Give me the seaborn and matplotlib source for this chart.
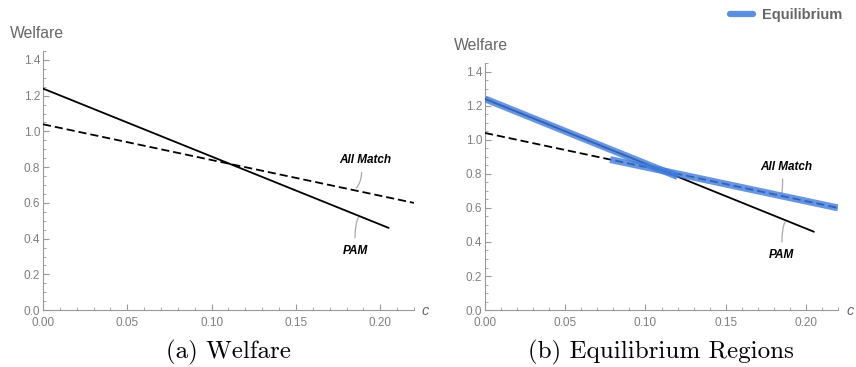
import matplotlib
matplotlib.use("Agg")
import matplotlib.pyplot as plt
from matplotlib.ticker import MultipleLocator, FormatStrFormatter
from matplotlib.lines import Line2D
import seaborn as sns
import pandas as pd

# ---- data ----
pam_c = [0.0, 0.205]
pam_w = [1.24, 0.46]
allmatch_c = [0.0, 0.22]
allmatch_w = [1.04, 0.60]
eq_pam_c = [0.0, 0.12]
eq_pam_w = [1.24, 0.784]
eq_all_c = [0.078, 0.22]
eq_all_w = [0.884, 0.60]
x_ticks = [0.00, 0.05, 0.10, 0.15, 0.20]
y_ticks = [0.0, 0.2, 0.4, 0.6, 0.8, 1.0, 1.2, 1.4]
captions = ["(a) Welfare", "(b) Equilibrium Regions"]

sns.set_theme(style="white")
plt.rcParams["font.family"] = ["Liberation Sans", "DejaVu Sans"]

GRAY = "#7f7f7f"
BLUE = "#3f7bdc"

fig = plt.figure(figsize=(8.56, 3.67), dpi=100)
ax1 = fig.add_axes([0.0502, 0.155, 0.4334, 0.706])
ax2 = fig.add_axes([0.5666, 0.155, 0.4124, 0.673])


def style(ax):
    ax.set_xlim(0, 0.22)
    ax.set_ylim(0, 1.45)
    ax.set_xticks(x_ticks)
    ax.set_yticks(y_ticks)
    ax.xaxis.set_minor_locator(MultipleLocator(0.01))
    ax.yaxis.set_minor_locator(MultipleLocator(0.05))
    ax.xaxis.set_major_formatter(FormatStrFormatter("%.2f"))
    ax.yaxis.set_major_formatter(FormatStrFormatter("%.1f"))
    for s in ["top", "right"]:
        ax.spines[s].set_visible(False)
    for s in ["left", "bottom"]:
        ax.spines[s].set_color("#999999")
        ax.spines[s].set_linewidth(0.8)
    ax.tick_params(which="both", direction="in", color="#999999", labelcolor=GRAY,
                   labelsize=8.5, left=True, bottom=True)
    ax.tick_params(which="major", length=4, width=0.8)
    ax.tick_params(which="minor", length=2.5, width=0.6)
    ax.tick_params(axis="x", pad=5)
    ax.tick_params(axis="y", pad=2)
    ax.set_xlabel("")
    ax.set_ylabel("")
    ax.grid(False)


def draw_lines(ax):
    sns.lineplot(x=pam_c, y=pam_w, ax=ax, color="black", lw=1.3, zorder=3)
    sns.lineplot(x=allmatch_c, y=allmatch_w, ax=ax, color="black", lw=1.3,
                 linestyle=(0, (4.5, 2.2)), zorder=3)


def annotate(ax, amx, amy, pmx, pmy):
    ax.text(amx, amy, "All Match", ha="center", va="center", fontsize=8.5,
            fontweight="bold", fontstyle="italic", color="black")
    ax.annotate("", xy=(0.1845, 0.675), xytext=(amx - 0.002, amy - 0.055),
                arrowprops=dict(arrowstyle="-", color="#aaaaaa", lw=0.9,
                                connectionstyle="angle3,angleA=90,angleB=30"))
    ax.text(pmx, pmy, "PAM", ha="center", va="center", fontsize=8.5,
            fontweight="bold", fontstyle="italic", color="black")
    ax.annotate("", xy=(0.188, 0.53), xytext=(pmx, pmy + 0.06),
                arrowprops=dict(arrowstyle="-", color="#aaaaaa", lw=0.9,
                                connectionstyle="angle3,angleA=90,angleB=40"))


# Panel (a)
draw_lines(ax1)
style(ax1)
annotate(ax1, 0.191, 0.841, 0.185, 0.329)

# Panel (b)
draw_lines(ax2)
sns.lineplot(x=eq_pam_c, y=eq_pam_w, ax=ax2, color=BLUE, lw=5, alpha=0.8,
             solid_capstyle="butt", zorder=5)
sns.lineplot(x=eq_all_c, y=eq_all_w, ax=ax2, color=BLUE, lw=5, alpha=0.8,
             solid_capstyle="butt", zorder=5)
style(ax2)
annotate(ax2, 0.1875, 0.841, 0.185, 0.324)

# Axis titles
fig.text(10 / 856, 1 - 33 / 367, "Welfare", fontsize=11.3, color="#666666",
         ha="left", va="center")
fig.text(454 / 856, 1 - 45 / 367, "Welfare", fontsize=11.3, color="#666666",
         ha="left", va="center")
fig.text(422 / 856, 1 - 311 / 367, "c", fontsize=10.5, color="#666666",
         fontstyle="italic", ha="left", va="center")
fig.text(847 / 856, 1 - 311 / 367, "c", fontsize=10.5, color="#666666",
         fontstyle="italic", ha="left", va="center")

# Legend
fig.legend(handles=[Line2D([], [], color=BLUE, lw=4.5, alpha=0.85)], labels=["Equilibrium"],
           loc="center right", bbox_to_anchor=(842 / 856, 1 - 15 / 367),
           frameon=False, handlelength=1.6, handletextpad=0.6,
           prop=dict(family="Liberation Sans", weight="bold", size=10.5),
           labelcolor="#666666", borderaxespad=0, borderpad=0)

# Captions
fig.text(228 / 856, 1 - 352 / 367, captions[0], fontsize=18, family="cmr10",
         ha="center", va="center", color="black")
fig.text(661 / 856, 1 - 352 / 367, captions[1], fontsize=18, family="cmr10",
         ha="center", va="center", color="black")

fig.savefig("out.png", dpi=100)
